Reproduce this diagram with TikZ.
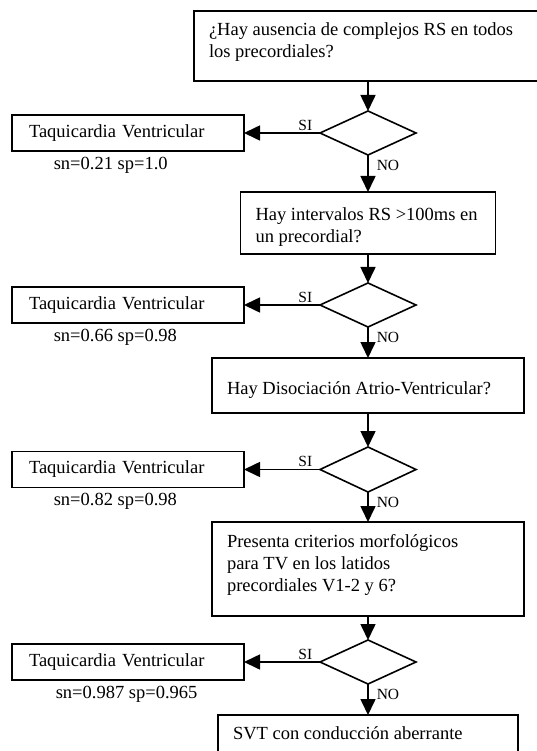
\documentclass[tikz,border=0pt]{standalone}
\usepackage{fontspec}
\setmainfont{Liberation Serif}
\usetikzlibrary{arrows.meta, positioning, shapes.geometric}

\newcommand{\qtext}[4]{\parbox[c][#2][t]{#1}{\raggedright\leftskip=15pt\relax\rule{0pt}{#3}#4}}

\begin{document}
\begin{tikzpicture}[
    line width=1.6pt,
    every node/.style={font=\fontsize{18.5}{22}\selectfont},
    quest/.style={draw, rectangle, inner sep=0pt, outer sep=0pt, line width=1.6pt},
    dec/.style={draw, diamond, inner sep=0pt, outer sep=0pt, line width=1.6pt,
    minimum width=96pt, minimum height=44pt},
    tvbox/.style={draw, rectangle, line width=1.6pt, text width=198pt, outer sep=0pt,
    inner xsep=17pt, minimum height=36pt, align=left},
    stat/.style={inner sep=0pt, anchor=north west},
    lbl/.style={inner sep=0pt, font=\fontsize{15.5}{18}\selectfont},
    arr/.style={-{Triangle[length=16pt, width=15pt]}}
    ]
    \useasboundingbox (0,0) rectangle (537pt,-751pt);

    \node[quest, anchor=north west] (q1) at (194pt,-11pt)
      {\qtext{348pt}{70pt}{25pt}{¿Hay ausencia de complejos RS en todos\\los precordiales?}};
    \node[dec]    (d1)  [below=30pt of q1]  {};
    \node[quest]  (q2)  [below=37pt of d1]
      {\qtext{255pt}{62pt}{28pt}{Hay intervalos RS >100ms en\\un precordial?}};
    \node[dec]    (d2)  [below=29pt of q2]  {};
    \node[quest]  (q3)  [below=31pt of d2]
      {\qtext{312pt}{55pt}{36pt}{Hay Disociación Atrio-Ventricular?}};
    \node[dec]    (d3)  [below=34pt of q3, minimum height=45pt]  {};
    \node[quest]  (q4)  [below=30pt of d3]
      {\qtext{312pt}{94pt}{25pt}{Presenta criterios morfológicos\\para TV en los latidos\\precordiales V1-2 y 6?}};
    \node[dec]    (d4)  [below=24pt of q4]  {};
    \node[quest]  (q5)  [below=31pt of d4]
      {\qtext{300pt}{60pt}{24pt}{SVT con conducción aberrante}};

    \node[tvbox]  (tv1) [left=76pt of d1]  {Taquicardia Ventricular};
    \node[tvbox]  (tv2) [left=76pt of d2]  {Taquicardia Ventricular};
    \node[tvbox]  (tv3) [left=76pt of d3]  {Taquicardia Ventricular};
    \node[tvbox]  (tv4) [left=76pt of d4]  {Taquicardia Ventricular};

    \node[stat]   (sn1) [below right=5pt and 41pt of tv1.south west]  {sn=0.21 sp=1.0};
    \node[stat]   (sn2) [below right=5pt and 41pt of tv2.south west]  {sn=0.66 sp=0.98};
    \node[stat]   (sn3) [below right=5pt and 41pt of tv3.south west]  {sn=0.82 sp=0.98};
    \node[stat]   (sn4) [below right=5pt and 43pt of tv4.south west]  {sn=0.987 sp=0.965};

    \path[arr]
      (q1)  edge  (d1)
      (d1)  edge  node[lbl, pos=0, above left=2pt and 7pt]  {SI}  (tv1)
      (d1)  edge  node[lbl, pos=0, below right=4pt and 8pt] {NO}  (q2)
      (q2)  edge  (d2)
      (d2)  edge  node[lbl, pos=0, above left=2pt and 7pt]  {SI}  (tv2)
      (d2)  edge  node[lbl, pos=0, below right=4pt and 8pt] {NO}  (q3)
      (q3)  edge  (d3)
      (d3)  edge  node[lbl, pos=0, above left=2pt and 7pt]  {SI}  (tv3)
      (d3)  edge  node[lbl, pos=0, below right=4pt and 8pt] {NO}  (q4)
      (q4)  edge  (d4)
      (d4)  edge  node[lbl, pos=0, above left=2pt and 7pt]  {SI}  (tv4)
      (d4)  edge  node[lbl, pos=0, below right=4pt and 8pt] {NO}  (q5)
    ;
\end{tikzpicture}
\end{document}
